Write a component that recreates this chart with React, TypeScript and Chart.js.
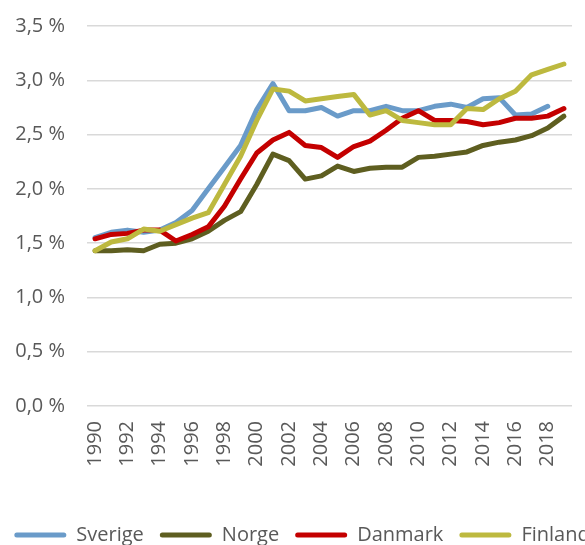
import React, { useEffect, useRef } from "react";
import { Chart, registerables } from "chart.js";

Chart.register(...registerables);

const years = [
  "1990", "1991", "1992", "1993", "1994", "1995", "1996", "1997", "1998", "1999",
  "2000", "2001", "2002", "2003", "2004", "2005", "2006", "2007", "2008", "2009",
  "2010", "2011", "2012", "2013", "2014", "2015", "2016", "2017", "2018", "2019",
];

const sverige = [
  1.55, 1.6, 1.62, 1.6, 1.62, 1.69, 1.8, 2.0, 2.2, 2.4,
  2.73, 2.97, 2.72, 2.72, 2.75, 2.67, 2.72, 2.72, 2.76, 2.72,
  2.72, 2.76, 2.78, 2.75, 2.83, 2.84, 2.68, 2.69, 2.76, null,
];
const norge = [
  1.43, 1.43, 1.44, 1.43, 1.49, 1.5, 1.54, 1.61, 1.71, 1.79,
  2.04, 2.32, 2.26, 2.09, 2.12, 2.21, 2.16, 2.19, 2.2, 2.2,
  2.29, 2.3, 2.32, 2.34, 2.4, 2.43, 2.45, 2.49, 2.56, 2.67,
];
const danmark = [
  1.54, 1.58, 1.59, 1.62, 1.62, 1.52, 1.58, 1.65, 1.84, 2.09,
  2.33, 2.45, 2.52, 2.4, 2.38, 2.29, 2.39, 2.44, 2.54, 2.65,
  2.72, 2.63, 2.63, 2.62, 2.59, 2.61, 2.65, 2.65, 2.67, 2.74,
];
const finland = [
  1.43, 1.51, 1.54, 1.63, 1.61, 1.67, 1.73, 1.78, 2.04, 2.3,
  2.63, 2.92, 2.9, 2.81, 2.83, 2.85, 2.87, 2.68, 2.72, 2.63,
  2.61, 2.59, 2.59, 2.74, 2.73, 2.83, 2.9, 3.05, 3.1, 3.15,
];

const seriesNames = ["Sverige", "Norge", "Danmark", "Finland"];
const seriesColors = ["#6a9bc9", "#5e5e20", "#c40000", "#bdb93f"];
const yTicks = [0, 0.5, 1, 1.5, 2, 2.5, 3, 3.5];

const FONT = "'Open Sans', 'DejaVu Sans', sans-serif";
const TEXT = "#595959";

export default function App() {
  const ref = useRef<HTMLCanvasElement | null>(null);

  useEffect(() => {
    if (!ref.current) return;
    const data = [sverige, norge, danmark, finland];
    const chart = new Chart(ref.current, {
      type: "line",
      data: {
        labels: years,
        datasets: data.map((d, i) => ({
          label: seriesNames[i],
          data: d,
          borderColor: seriesColors[i],
          backgroundColor: seriesColors[i],
          borderWidth: 5,
          pointRadius: 0,
          tension: 0,
          borderCapStyle: "round" as const,
          borderJoinStyle: "round" as const,
          order: 3 - i,
        })),
      },
      options: {
        responsive: false,
        animation: false,
        layout: { padding: 0 },
        plugins: {
          tooltip: { enabled: false },
          legend: {
            position: "bottom",
            labels: {
              sort: (a: any, b: any) => a.datasetIndex - b.datasetIndex,
              boxWidth: 52,
              boxHeight: 5,
              padding: 16,
              color: TEXT,
              font: { family: FONT, size: 20 },
              useBorderRadius: true,
              borderRadius: 2.5,
              generateLabels: (c: any) =>
                c.data.datasets.map((ds: any, i: number) => ({
                  text: ds.label,
                  fillStyle: ds.borderColor,
                  strokeStyle: ds.borderColor,
                  lineWidth: 0,
                  datasetIndex: i,
                  hidden: false,
                  borderRadius: 2.5,
                  fontColor: TEXT,
                })),
            },
          },
        },
        scales: {
          x: {
            offset: true,
            grid: { display: false, drawTicks: false },
            border: { display: false },
            ticks: {
              autoSkip: false,
              maxRotation: 90,
              minRotation: 90,
              padding: 15,
              color: TEXT,
              font: { family: FONT, size: 20 },
              callback: (_v: any, idx: number) => (idx % 2 === 0 ? years[idx] : ""),
            },
            afterFit: (s: any) => {
              s.height = 103;
            },
          },
          y: {
            min: 0,
            max: 3.5,
            afterBuildTicks: (s: any) => {
              s.ticks = yTicks.map((v) => ({ value: v }));
            },
            grid: { color: "#d9d9d9", lineWidth: 1.5, drawTicks: false },
            border: { display: false },
            ticks: {
              padding: 22,
              color: TEXT,
              font: { family: FONT, size: 20 },
              callback: (v: any) => Number(v).toFixed(1).replace(".", ",") + " %",
            },
            afterFit: (s: any) => {
              s.width = 95;
            },
          },
          y2: {
            position: "right",
            display: true,
            grid: { display: false, drawTicks: false },
            border: { display: false },
            ticks: { display: false },
            afterFit: (s: any) => {
              s.width = 40;
            },
          },
        },
      },
    });
    return () => chart.destroy();
  }, []);

  return (
    <div
      style={{
        position: "fixed",
        left: 0,
        top: 0,
        width: 585,
        height: 545,
        overflow: "hidden",
        background: "#fff",
      }}
    >
      <canvas
        ref={ref}
        width={620}
        height={563}
        style={{ display: "block", position: "absolute", left: -8, top: -8 }}
      />
    </div>
  );
}
